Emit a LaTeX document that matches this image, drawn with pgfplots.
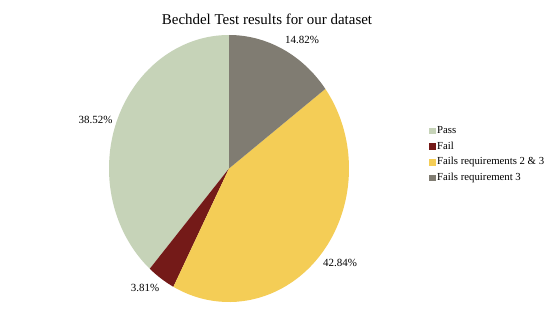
\documentclass[border=0pt]{standalone}
\usepackage{fontspec}
\setmainfont{Liberation Serif}
\usepackage{pgfplots}
\pgfplotsset{compat=1.18}
\definecolor{cPass}{RGB}{198,211,184}
\definecolor{cFail}{RGB}{116,26,24}
\definecolor{cF23}{RGB}{244,205,86}
\definecolor{cF3}{RGB}{128,124,114}
% data (percent)
\def\vPass{38.52}
\def\vFail{3.81}
\def\vFtt{42.84}
\def\vFt{14.82}
% pie geometry in axis units (1 unit = 1bp)
\def\cx{229}\def\cy{140.5}\def\rx{120}\def\ry{133.5}
\pgfmathsetmacro{\aA}{90}
\pgfmathsetmacro{\aB}{\aA+3.6*\vPass}
\pgfmathsetmacro{\aC}{\aB+3.6*\vFail}
\pgfmathsetmacro{\aD}{\aC+3.6*\vFtt}
\pgfmathsetmacro{\aE}{\aD+3.6*\vFt}
\newcommand{\pieslice}[3]{%
  \pgfmathsetmacro{\sx}{\cx+\rx*cos(#1)}%
  \pgfmathsetmacro{\sy}{\cy+\ry*sin(#1)}%
  \edef\tmp{\noexpand\fill[#3] (axis cs:\cx,\cy) -- (axis cs:\sx,\sy) arc[start angle=#1, end angle=#2, x radius=\rx bp, y radius=\ry bp] -- cycle;}%
  \tmp}
\begin{document}
\begin{tikzpicture}
\begin{axis}[
  width=557bp, height=309bp, scale only axis,
  xmin=0, xmax=557, ymin=0, ymax=309,
  hide axis, clip=false,
  legend cell align=left,
  legend style={at={(axis cs:429,186)}, anchor=north west, draw=none, fill=none,
    inner sep=0pt, row sep=0pt,
    font=\fontsize{10.8}{12}\selectfont,
    nodes={text height=7.8pt, text depth=2.4pt, inner ysep=2.75pt, inner xsep=1.2pt}},
  legend image code/.code={\fill[#1] (0bp,-3.4bp) rectangle (6.8bp,3.4bp);},
]
\path (rel axis cs:0,0) rectangle (rel axis cs:1,1);
\pieslice{\aA}{\aB}{cPass}
\pieslice{\aB}{\aC}{cFail}
\pieslice{\aC}{\aD}{cF23}
\pieslice{\aD}{\aE}{cF3}
\addlegendimage{fill=cPass, draw=none}
\addlegendentry{Pass}
\addlegendimage{fill=cFail, draw=none}
\addlegendentry{Fail}
\addlegendimage{fill=cF23, draw=none}
\addlegendentry{Fails requirements 2 \& 3}
\addlegendimage{fill=cF3, draw=none}
\addlegendentry{Fails requirement 3}
\node[font=\fontsize{15}{18}\selectfont] at (axis cs:267,290) {Bechdel Test results for our dataset};
\node[font=\fontsize{11}{13}\selectfont] at (axis cs:302,269) {14.82\%};
\node[font=\fontsize{11}{13}\selectfont] at (axis cs:95.5,189) {38.52\%};
\node[font=\fontsize{11}{13}\selectfont] at (axis cs:145,21) {3.81\%};
\node[font=\fontsize{11}{13}\selectfont] at (axis cs:340,46) {42.84\%};
\end{axis}
\end{tikzpicture}
\end{document}
